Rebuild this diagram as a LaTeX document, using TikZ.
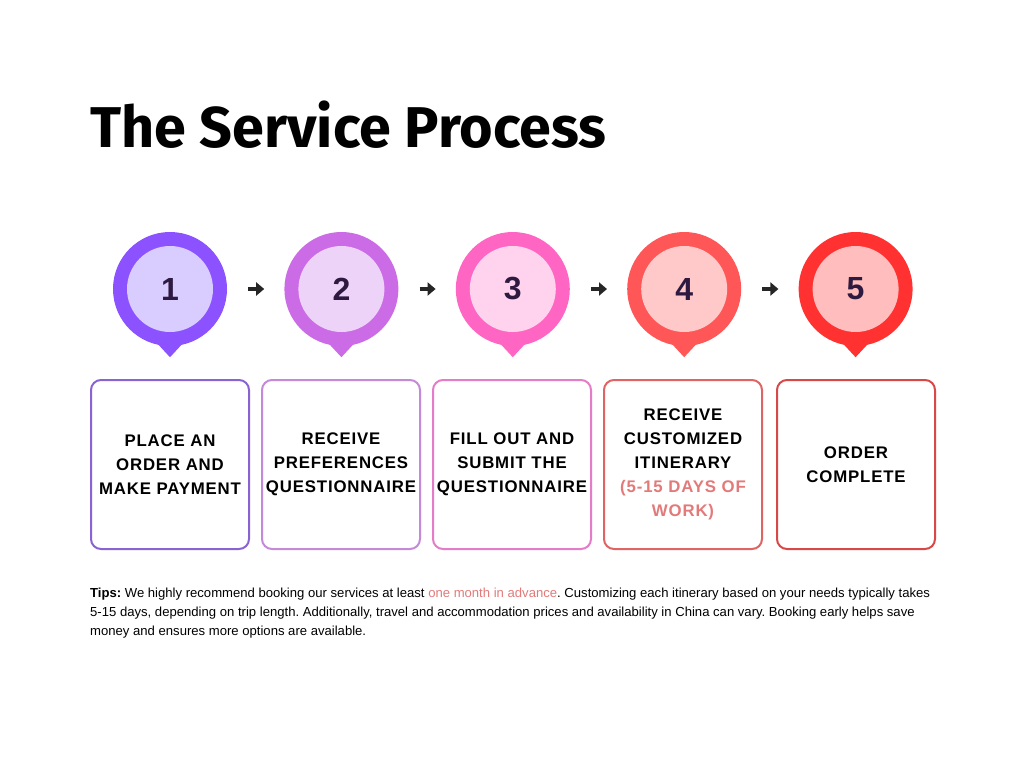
\documentclass[tikz,border=0pt]{standalone}
\usepackage{fontspec}
\setmainfont{Liberation Sans}
\newfontfamily\titlefont{Fira Sans}
\newfontfamily\boxfont{Liberation Sans}[LetterSpace=5]
\usepackage{xcolor}
\usetikzlibrary{arrows.meta, positioning}

\definecolor{pinA}{HTML}{8C52FF}\definecolor{coreA}{HTML}{D9CCFF}\definecolor{edgeA}{HTML}{8A63D2}
\definecolor{pinB}{HTML}{CB6CE6}\definecolor{coreB}{HTML}{EDD3F7}\definecolor{edgeB}{HTML}{C48AD9}
\definecolor{pinC}{HTML}{FF66C4}\definecolor{coreC}{HTML}{FFD3EE}\definecolor{edgeC}{HTML}{E57CC7}
\definecolor{pinD}{HTML}{FF5757}\definecolor{coreD}{HTML}{FFC9C9}\definecolor{edgeD}{HTML}{E06464}
\definecolor{pinE}{HTML}{FF3131}\definecolor{coreE}{HTML}{FFBDBD}\definecolor{edgeE}{HTML}{D94848}
\definecolor{numdark}{HTML}{2E1A40}
\definecolor{tipred}{HTML}{E37A7A}

\begin{document}
\frenchspacing
\begin{tikzpicture}[
    x=1pt, y=-1pt,
    node distance=11pt and 11pt,
    pin/.style={circle, minimum size=114pt, inner sep=0pt},
    core/.style={circle, minimum size=86pt, inner sep=0pt, font=\bfseries\fontsize{32}{32}\selectfont, text=numdark},
    stepbox/.style={rectangle, draw, line width=2pt, rounded corners=10pt, minimum width=158pt, minimum height=169pt, text width=152pt, inner xsep=3pt, align=center, font=\boxfont\bfseries\fontsize{16.8}{24}\selectfont},
    arrow/.style={-{Triangle[length=8pt, width=13pt]}, line width=4.5pt, draw=black!85, shorten <=21pt, shorten >=20pt},
]
\fill[white] (0,0) rectangle (1024,768);
\useasboundingbox (0,0) rectangle (1024,768);

% title
\node[anchor=base west, inner sep=0pt, font=\titlefont\bfseries\fontsize{57.5}{57.5}\selectfont] (title) at (90,147) {The Service Process};

% pins
\node[pin] (p1) at (170,289) {};
\node[pin, right=57pt of p1] (p2) {};
\node[pin, right=57pt of p2] (p3) {};
\node[pin, right=57pt of p3] (p4) {};
\node[pin, right=57pt of p4] (p5) {};
\foreach \i/\c in {1/A,2/B,3/C,4/D,5/E}{
  \fill[pin\c] (p\i) circle (57pt);
  \fill[pin\c] ([xshift=-13pt,yshift=3pt]p\i.south) -- ([yshift=-11pt]p\i.south) -- ([xshift=13pt,yshift=3pt]p\i.south) -- cycle;
  \node[core, fill=core\c] (n\i) at (p\i) {\i};
}

\draw[arrow] (p1) -- (p2);
\draw[arrow] (p2) -- (p3);
\draw[arrow] (p3) -- (p4);
\draw[arrow] (p4) -- (p5);

% steps
\node[stepbox, draw=edgeA] (b1) at (170,464.5) {PLACE AN\\ORDER AND\\MAKE PAYMENT};
\node[stepbox, draw=edgeB, right=of b1] (b2) {RECEIVE\\PREFERENCES\\QUESTIONNAIRE};
\node[stepbox, draw=edgeC, right=of b2] (b3) {FILL OUT AND\\SUBMIT THE\\QUESTIONNAIRE};
\node[stepbox, draw=edgeD, right=of b3] (b4) {RECEIVE\\CUSTOMIZED\\ITINERARY\\\textcolor{tipred}{(5-15 DAYS OF}\\\textcolor{tipred}{WORK)}};
\node[stepbox, draw=edgeE, right=13pt of b4] (b5) {ORDER\\COMPLETE};

% tips
\node[anchor=north west, inner sep=0pt, align=left, font=\fontsize{13.1}{19}\selectfont] (tips) at (90,588) {\textbf{Tips:} We highly recommend booking our services at least \textcolor{tipred}{one month in advance}. Customizing each itinerary based on your needs typically takes\\5-15 days, depending on trip length. Additionally, travel and accommodation prices and availability in China can vary. Booking early helps save\\money and ensures more options are available.};
\end{tikzpicture}
\end{document}
